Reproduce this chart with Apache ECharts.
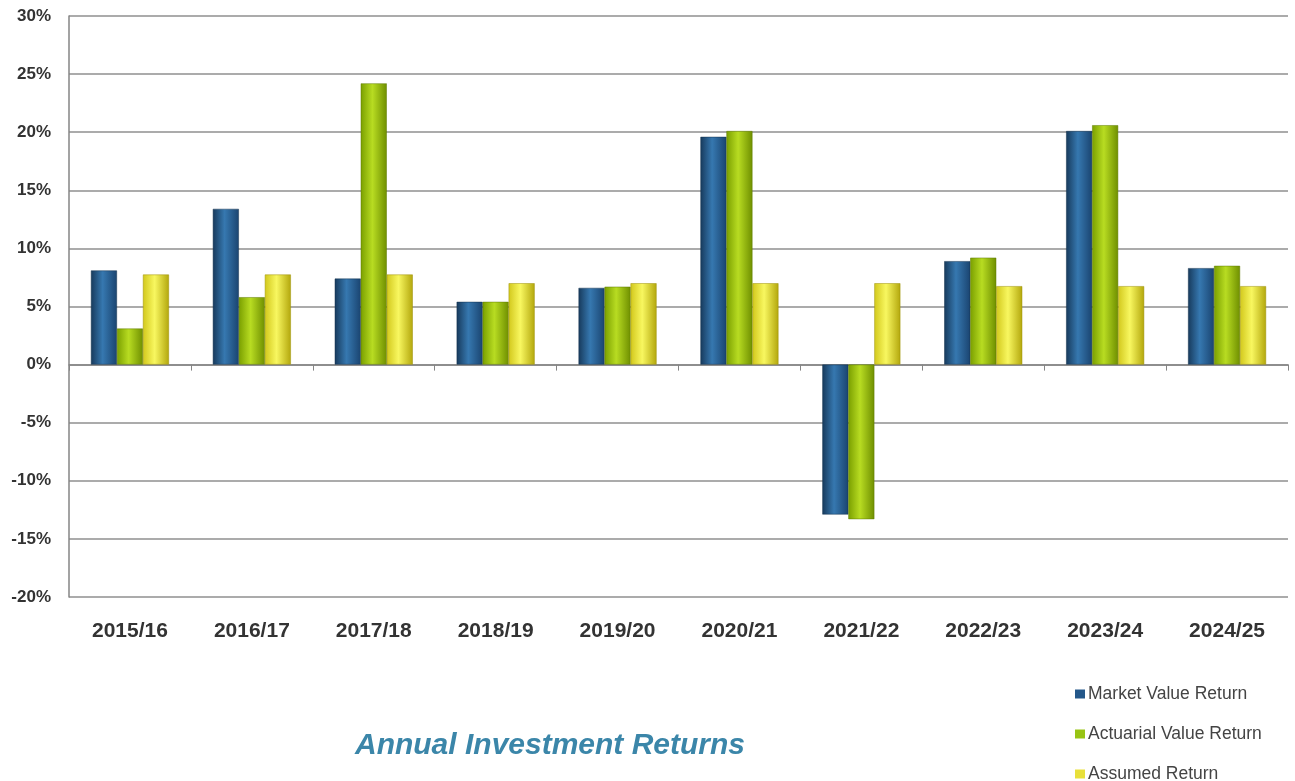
<!DOCTYPE html>
<html>
<head>
<meta charset="utf-8">
<script src="https://cdn.jsdelivr.net/npm/echarts@6/dist/echarts.min.js"></script>
<style>
  html, body { margin: 0; padding: 0; background: #fff; }
  #chart { width: 1295px; height: 781px; }
</style>
</head>
<body>
<div id="chart"></div>
<script>
// fiscal years on the x axis
const years = ['2015/16', '2016/17', '2017/18', '2018/19', '2019/20', '2020/21', '2021/22', '2022/23', '2023/24', '2024/25']
// returns in percent
const marketValue = [8.1, 13.4, 7.4, 5.4, 6.6, 19.6, -12.9, 8.9, 20.1, 8.3]
const actuarialValue = [3.1, 5.8, 24.2, 5.4, 6.7, 20.1, -13.3, 9.2, 20.6, 8.5]
const assumedReturn = [7.75, 7.75, 7.75, 7.0, 7.0, 7.0, 7.0, 6.75, 6.75, 6.75]
const legendNames = ['Market Value Return', 'Actuarial Value Return', 'Assumed Return']

// cylinder-ish shading like the original 3D bars
function shade (edge, mid, edge2) {
  return new echarts.graphic.LinearGradient(0, 0, 1, 0, [
    { offset: 0, color: edge },
    { offset: 0.45, color: mid },
    { offset: 1, color: edge2 }
  ])
}

const myChart = echarts.init(document.getElementById('chart'))
myChart.setOption({
  animation: false,
  color: ['#2a6699', '#a6cc12', '#eeea3c'],
  textStyle: { fontFamily: 'Liberation Sans, Arial, sans-serif' },
  title: {
    text: 'Annual Investment Returns',
    left: 545,
    top: 726,
    textAlign: 'center',
    textStyle: {
      color: '#3b86a9',
      fontSize: 30,
      fontStyle: 'italic',
      fontWeight: 'bold'
    }
  },
  legend: {
    orient: 'vertical',
    left: 1075,
    top: 685,
    height: 120,
    padding: 0,
    itemWidth: 10,
    itemHeight: 9,
    itemGap: 22,
    icon: 'rect',
    itemStyle: { borderWidth: 0 },
    data: [
      { name: legendNames[0], itemStyle: { color: '#24588a' } },
      { name: legendNames[1], itemStyle: { color: '#98c414' } },
      { name: legendNames[2], itemStyle: { color: '#e8e03a' } }
    ],
    textStyle: {
      color: '#444',
      fontSize: 17.5,
      padding: [0, 0, 0, -2]
    }
  },
  grid: { left: 69, right: 7, top: 16, bottom: 184 },
  xAxis: [
    {
      type: 'category',
      data: years,
      position: 'bottom',
      axisLine: { show: false, onZero: false },
      axisTick: { show: false },
      axisLabel: { margin: 24, color: '#333', fontSize: 21, fontWeight: 'bold' }
    },
    {
      // the zero line with its tick marks
      type: 'category',
      data: years,
      axisLine: { onZero: true, lineStyle: { color: '#858585', width: 1.5 } },
      axisTick: { show: true, inside: true, length: 6, lineStyle: { color: '#858585' } },
      axisLabel: { show: false }
    }
  ],
  yAxis: {
    type: 'value',
    min: -20,
    max: 30,
    interval: 5,
    axisLine: { show: true, lineStyle: { color: '#858585', width: 1.5 } },
    axisTick: { show: false },
    axisLabel: {
      formatter: '{value}%',
      margin: 18,
      color: '#333',
      fontSize: 17,
      fontWeight: 'bold'
    },
    splitLine: { lineStyle: { color: '#8f8f8f', width: 1.5 } }
  },
  series: [
    {
      name: legendNames[0],
      type: 'bar',
      barWidth: 26,
      barGap: '0%',
      itemStyle: {
        color: shade('#173a5c', '#3678b0', '#1a4470'),
        borderColor: '#15324f',
        borderWidth: 0.5
      },
      data: marketValue
    },
    {
      name: legendNames[1],
      type: 'bar',
      barWidth: 26,
      barGap: '0%',
      itemStyle: {
        color: shade('#7a9f00', '#b8dc22', '#6f8f00'),
        borderColor: '#5f7a00',
        borderWidth: 0.5
      },
      data: actuarialValue
    },
    {
      name: legendNames[2],
      type: 'bar',
      barWidth: 26,
      barGap: '0%',
      itemStyle: {
        color: shade('#d2c81c', '#f8f760', '#b3a70c'),
        borderColor: '#9c9108',
        borderWidth: 0.5
      },
      data: assumedReturn
    }
  ]
})
</script>
</body>
</html>
